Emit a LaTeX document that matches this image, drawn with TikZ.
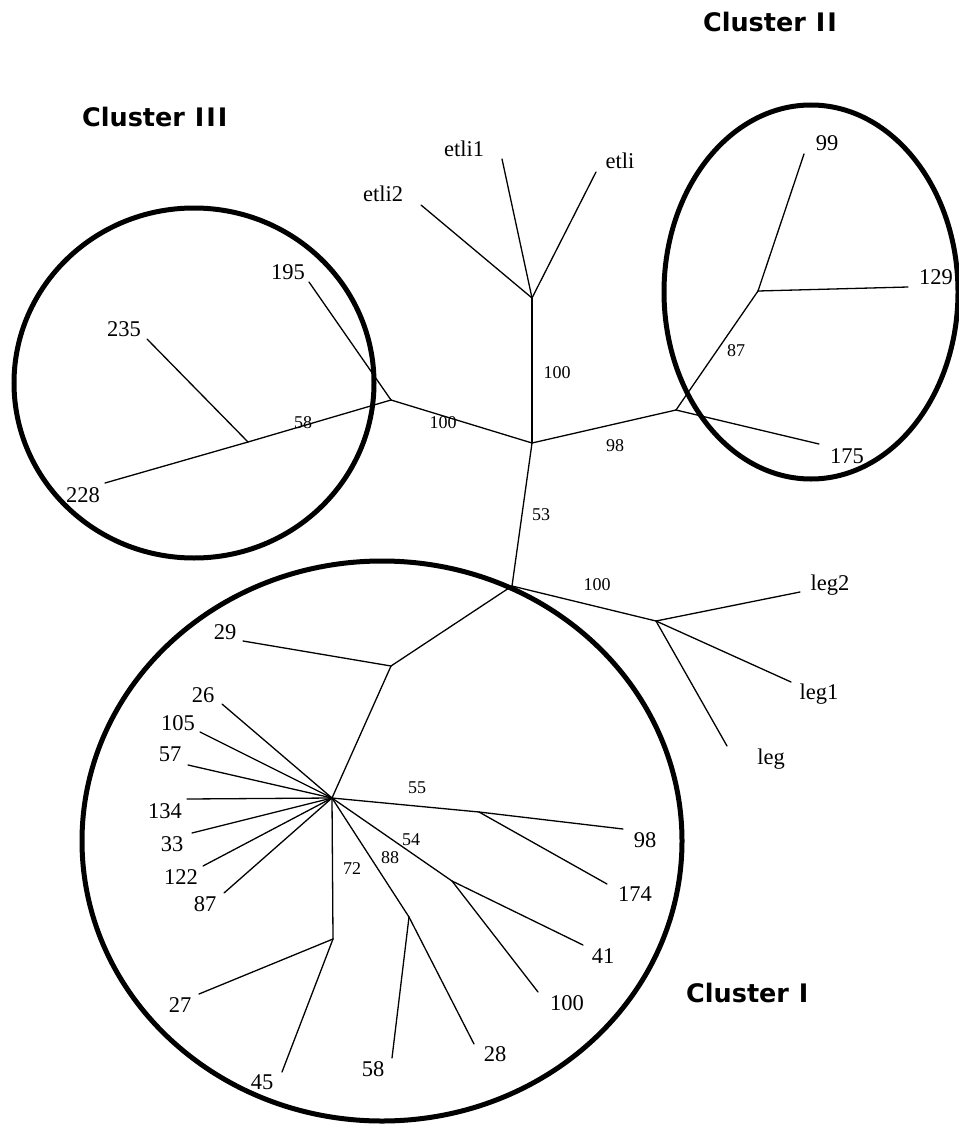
\documentclass[tikz,border=0pt]{standalone}
\usepackage{fontspec}
\setmainfont{Liberation Serif}
\newfontfamily\clusterfont{DejaVu Sans}
% roman numerals of the cluster titles, set a little wider
\newcommand\numI{\kern1pt I\kern1pt}
\begin{document}
\begin{tikzpicture}[x=1pt,y=-1pt,
  branch/.style={line width=1.3pt, line cap=round, line join=round},
  ring/.style={line width=5pt},
  leaf/.style={font=\fontsize{22.5}{24}\selectfont, anchor=base, inner sep=0pt},
  boot/.style={font=\fontsize{18}{20}\selectfont, anchor=base, inner sep=0pt},
  title/.style={font=\clusterfont\bfseries\fontsize{25.5}{27}\selectfont, inner sep=0pt, anchor=base west}]
\useasboundingbox (0,0) rectangle (958,1126);

% ---- internal nodes of the tree
\coordinate (c0) at (532,443);
\coordinate (e)  at (532,298);
\coordinate (j3) at (391,400);
\coordinate (j3b) at (248,442);
\coordinate (j2a) at (676,410);
\coordinate (j2b) at (758,291);
\coordinate (c1) at (512,586);
\coordinate (lg) at (656,621);
\coordinate (c2) at (391,666);
\coordinate (s)  at (332,798);
\coordinate (d)  at (479,812);
\coordinate (f)  at (452,881);
\coordinate (g)  at (409,917);
\coordinate (h)  at (333,939);

% ---- leaf tips
\coordinate (tetli1) at (502,159);
\coordinate (tetli)  at (596,172);
\coordinate (tetli2) at (421,205);
\coordinate (t195) at (309,282);
\coordinate (t235) at (147,339);
\coordinate (t228) at (105,483);
\coordinate (t99)  at (804,154);
\coordinate (t129) at (908,287);
\coordinate (t175) at (819,444);
\coordinate (tleg2) at (800,592);
\coordinate (tleg1) at (791,682);
\coordinate (tleg)  at (727,746);
\coordinate (t29)  at (243,641);
\coordinate (t26)  at (222,704);
\coordinate (t105) at (200,732);
\coordinate (t57)  at (188,765);
\coordinate (t134) at (187,799);
\coordinate (t33)  at (192,833);
\coordinate (t122) at (203,866);
\coordinate (t87)  at (224,893);
\coordinate (t98)  at (623,829);
\coordinate (t174) at (607,884);
\coordinate (t41)  at (583,945);
\coordinate (t100) at (538,992);
\coordinate (t28)  at (474,1044);
\coordinate (t58)  at (392,1058);
\coordinate (t27)  at (199,994);
\coordinate (t45)  at (282,1072);

% ---- branches
\draw[branch] (c0) -- (e);
\draw[branch] (e) -- (tetli1);
\draw[branch] (e) -- (tetli);
\draw[branch] (e) -- (tetli2);
\draw[branch] (c0) -- (j3);
\draw[branch] (j3) -- (t195);
\draw[branch] (j3) -- (j3b);
\draw[branch] (j3b) -- (t235);
\draw[branch] (j3b) -- (t228);
\draw[branch] (c0) -- (j2a);
\draw[branch] (j2a) -- (j2b);
\draw[branch] (j2b) -- (t99);
\draw[branch] (j2b) -- (t129);
\draw[branch] (j2a) -- (t175);
\draw[branch] (c0) -- (c1);
\draw[branch] (c1) -- (lg);
\draw[branch] (lg) -- (tleg2);
\draw[branch] (lg) -- (tleg1);
\draw[branch] (lg) -- (tleg);
\draw[branch] (c1) -- (c2);
\draw[branch] (c2) -- (t29);
\draw[branch] (c2) -- (s);
\foreach \t in {t26,t105,t57,t134,t33,t122,t87}
  \draw[branch] (s) -- (\t);
\draw[branch] (s) -- (d);
\draw[branch] (d) -- (t98);
\draw[branch] (d) -- (t174);
\draw[branch] (s) -- (f);
\draw[branch] (f) -- (t41);
\draw[branch] (f) -- (t100);
\draw[branch] (s) -- (g);
\draw[branch] (g) -- (t28);
\draw[branch] (g) -- (t58);
\draw[branch] (s) -- (h);
\draw[branch] (h) -- (t27);
\draw[branch] (h) -- (t45);

% ---- leaf names
\node[leaf] (letli1) at (464,157) {etli1};
\node[leaf] (letli)  at (620,168) {etli};
\node[leaf] (letli2) at (383,201) {etli2};
\node[leaf] (l195) at (288,279) {195};
\node[leaf] (l235) at (124,336) {235};
\node[leaf] (l228) at (83,502) {228};
\node[leaf] (l99)  at (827,151) {99};
\node[leaf] (l129) at (936,284) {129};
\node[leaf] (l175) at (847,463) {175};
\node[leaf] (lleg2) at (830,590) {leg2};
\node[leaf] (lleg1) at (819,699) {leg1};
\node[leaf] (lleg)  at (771,764) {leg};
\node[leaf] (l29)  at (225,639) {29};
\node[leaf] (l26)  at (203,702) {26};
\node[leaf] (l105) at (178,730) {105};
\node[leaf] (l57)  at (170,761) {57};
\node[leaf] (l134) at (165,818) {134};
\node[leaf] (l33)  at (172,851) {33};
\node[leaf] (l122) at (181,884) {122};
\node[leaf] (l87)  at (205,911) {87};
\node[leaf] (l98)  at (645,847) {98};
\node[leaf] (l174) at (635,901) {174};
\node[leaf] (l41)  at (603,963) {41};
\node[leaf] (l100) at (567,1010) {100};
\node[leaf] (l28)  at (495,1061) {28};
\node[leaf] (l58)  at (373,1076) {58};
\node[leaf] (l27)  at (180,1012) {27};
\node[leaf] (l45)  at (262,1089) {45};

% ---- bootstrap support values
\node[boot] (b1) at (557,378) {100};
\node[boot] (b2) at (443,428) {100};
\node[boot] (b3) at (303,428) {58};
\node[boot] (b4) at (615,451) {98};
\node[boot] (b5) at (736,356) {87};
\node[boot] (b6) at (541,520) {53};
\node[boot] (b7) at (597,590) {100};
\node[boot] (b8) at (417,793) {55};
\node[boot] (b9) at (411,845) {54};
\node[boot] (b10) at (390,863) {88};
\node[boot] (b11) at (352,874) {72};

% ---- cluster outlines
\draw[ring] (194,383) ellipse [x radius=180pt, y radius=175pt];
\draw[ring] (811,292) ellipse [x radius=147pt, y radius=187pt];
\draw[ring] (382,841) ellipse [x radius=300pt, y radius=280pt];

% ---- cluster titles
\node[title] (tIII) at (82,127) {Cluster \numI\numI\numI};
\node[title, anchor=base east] (tII) at (838,32) {Cluster \numI\numI};
\node[title] (tI) at (686,1002) {Cluster \numI};
\end{tikzpicture}
\end{document}
